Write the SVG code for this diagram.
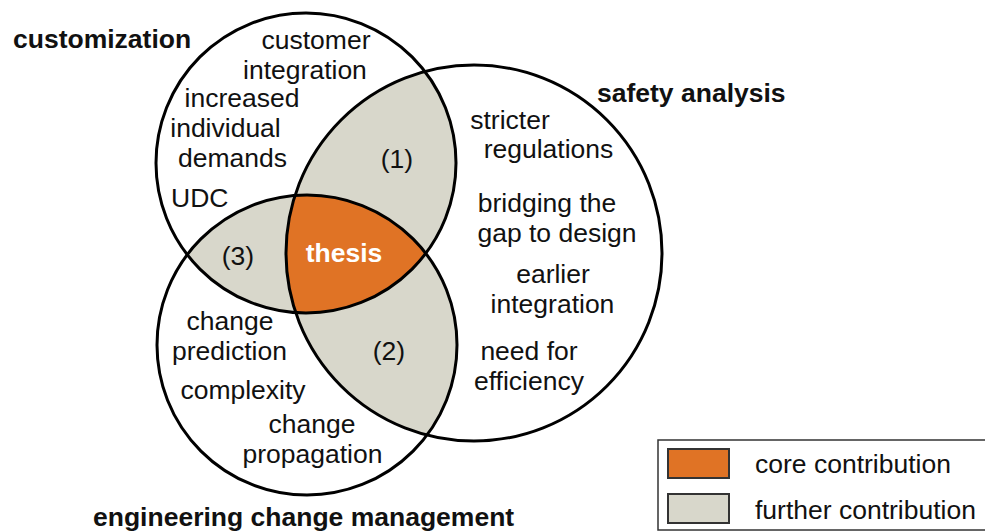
<svg xmlns="http://www.w3.org/2000/svg" width="985" height="532" viewBox="0 0 985 532">
<style>
.t{font-family:"Liberation Sans",Arial,sans-serif;font-size:26.5px;fill:#111}
.m{text-anchor:middle}
.b{font-weight:bold}
.ring{fill:none;stroke:#000;stroke-width:3}
.gray{fill:#d8d7cb}
.orange{fill:#e07325}
</style>
<defs>
<clipPath id="clipCust"><circle cx="306" cy="163" r="150"/></clipPath>
<clipPath id="clipSafe"><circle cx="474" cy="253" r="188"/></clipPath>
<clipPath id="clipEcm"><circle cx="307" cy="345" r="150"/></clipPath>
</defs>
<rect width="985" height="532" fill="#fff"/>

<g id="region-1">
<g clip-path="url(#clipSafe)"><circle class="gray" cx="306" cy="163" r="150"/></g>
<text class="t m" x="397" y="168">(1)</text>
</g>
<g id="region-2">
<g clip-path="url(#clipEcm)"><circle class="gray" cx="474" cy="253" r="188"/></g>
<text class="t m" x="389" y="360">(2)</text>
</g>
<g id="region-3">
<g clip-path="url(#clipEcm)"><circle class="gray" cx="306" cy="163" r="150"/></g>
<text class="t m" x="238" y="265">(3)</text>
</g>
<g id="thesis">
<g clip-path="url(#clipEcm)"><g clip-path="url(#clipSafe)"><circle class="orange" cx="306" cy="163" r="150"/></g></g>
<text class="t m b" x="344" y="262" style="fill:#fff">thesis</text>
</g>

<g id="customization">
<circle class="ring" cx="306" cy="163" r="150"/>
<text class="t b" x="13" y="48">customization</text>
<text class="t m" x="316" y="49">customer</text>
<text class="t m" x="305" y="79">integration</text>
<text class="t m" x="242" y="107">increased</text>
<text class="t m" x="225.5" y="137">individual</text>
<text class="t m" x="232.5" y="167">demands</text>
<text class="t" x="171" y="207">UDC</text>
</g>

<g id="safety-analysis">
<circle class="ring" cx="474" cy="253" r="188"/>
<text class="t b" x="597" y="102">safety analysis</text>
<text class="t m" x="510" y="129">stricter</text>
<text class="t m" x="548.5" y="158">regulations</text>
<text class="t m" x="547" y="212">bridging the</text>
<text class="t m" x="557" y="242">gap to design</text>
<text class="t m" x="553" y="283">earlier</text>
<text class="t m" x="552.5" y="313">integration</text>
<text class="t m" x="529" y="360">need for</text>
<text class="t m" x="529" y="390">efficiency</text>
</g>

<g id="engineering-change-management">
<circle class="ring" cx="307" cy="345" r="150"/>
<text class="t b" x="93" y="526">engineering change management</text>
<text class="t m" x="230" y="330">change</text>
<text class="t m" x="229.5" y="360">prediction</text>
<text class="t m" x="243" y="399">complexity</text>
<text class="t m" x="312" y="433">change</text>
<text class="t m" x="312.5" y="463">propagation</text>
</g>

<g id="connectors"></g>

<g id="legend">
<rect x="658" y="440" width="340" height="90" fill="#fff" stroke="#333" stroke-width="1.5"/>
<rect class="orange" x="668" y="449" width="61" height="29" stroke="#333" stroke-width="2"/>
<text class="t" x="755" y="473">core contribution</text>
<rect class="gray" x="668" y="494" width="61" height="29" stroke="#333" stroke-width="2"/>
<text class="t" x="755" y="519">further contribution</text>
</g>
</svg>
